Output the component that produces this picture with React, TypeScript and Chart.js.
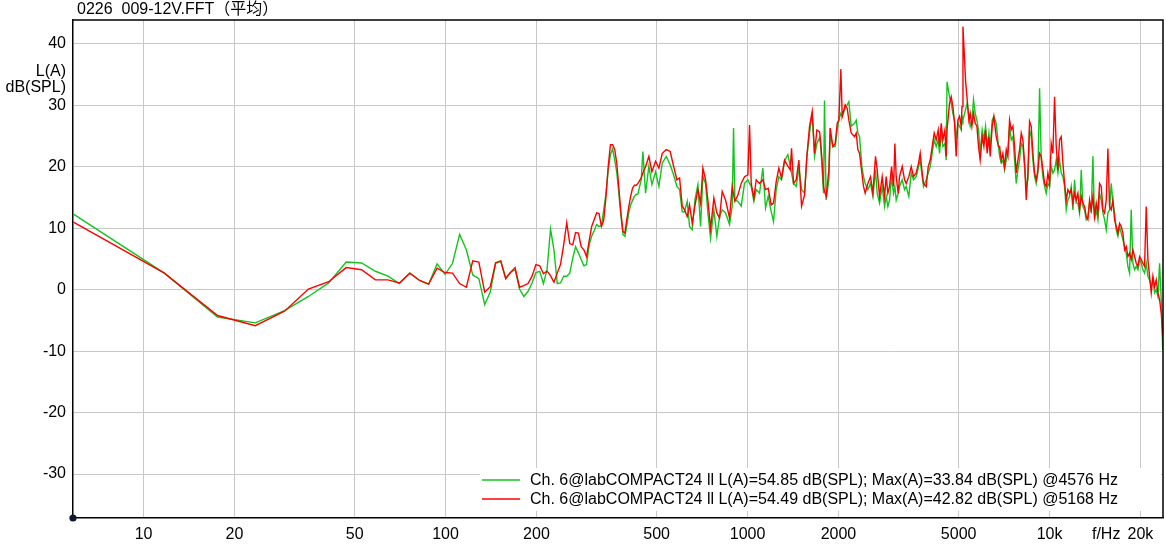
import React, { useEffect, useRef } from 'react';
import { Chart, registerables } from 'chart.js';

Chart.register(...registerables);

const TITLE = '0226  009-12V.FFT（平均）';
const Y_LABEL_LINES = ['L(A)', 'dB(SPL)'];
const SERIES_NAMES = [
  'Ch. 6@labCOMPACT24 ll L(A)=54.85 dB(SPL); Max(A)=33.84 dB(SPL) @4576 Hz',
  'Ch. 6@labCOMPACT24 ll L(A)=54.49 dB(SPL); Max(A)=42.82 dB(SPL) @5168 Hz',
];
const SERIES_COLORS = ['rgb(18,196,30)', '#ff0000'];

const xTickValues = [10, 20, 50, 100, 200, 500, 1000, 2000, 5000, 10000, 15400, 20000];
const xTickLabels = ['10', '20', '50', '100', '200', '500', '1000', '2000', '5000', '10k', 'f/Hz', '20k'];
const yTickValues = [-30, -20, -10, 0, 10, 20, 30, 40];

const freqHz = [
  5.86, 11.72, 17.58, 23.44, 29.3, 35.16, 41.02, 46.88, 52.73, 58.59, 64.45, 70.31, 76.17, 82.03, 87.89, 93.75,
  99.61, 105.47, 111.33, 117.19, 123.05, 128.91, 134.77, 140.63, 146.48, 152.34, 158.2, 164.06, 169.92, 175.78,
  181.64, 187.5, 193.36, 199.22, 205.08, 210.94, 216.8, 222.66, 228.52, 234.38, 240.23, 246.09, 251.95, 257.81,
  263.67, 269.53, 275.39, 281.25, 287.11, 292.97, 298.83, 304.69, 310.55, 316.41, 322.27, 328.13, 333.98, 339.84,
  345.7, 351.56, 357.42, 363.28, 369.14, 375, 380.86, 386.72, 392.58, 398.44, 404.3, 410.16, 416.02, 421.88,
  427.73, 433.59,
  444.6, 450.2, 459.5, 471.3, 482.2, 496.0, 508.7, 521.8, 538.0, 554.6, 568.9, 583.5, 595.5, 607.7, 618.6, 631.3,
  642.6, 655.9, 669.3, 684.8, 698.9, 711.4, 726.0, 739.0, 754.3, 773.6, 791.4, 807.8, 824.3, 845.6, 871.7, 889.6,
  898.7, 907.9, 928.9, 952.8, 977.2, 1002.5, 1015.3, 1028.3, 1049.3, 1068.3, 1095.7, 1123.8, 1147.0, 1170.5,
  1197.7, 1219.2, 1244.2, 1269.7, 1295.9, 1325.8, 1359.8, 1384.4, 1398.5, 1420.0, 1449.4, 1479.1, 1509.4, 1544.2,
  1572.1, 1604.3, 1637.2, 1666.8, 1696.7, 1731.6,
  1744, 1767, 1785, 1798, 1821, 1859, 1878, 1916, 1951, 1981, 2006, 2037, 2058, 2105, 2138, 2165, 2204, 2261,
  2290, 2319, 2349, 2391, 2421, 2452, 2503, 2554, 2600, 2653, 2687, 2736, 2792, 2842, 2878, 2915, 2953, 2998,
  3044, 3075, 3106, 3154, 3186, 3252, 3310, 3352, 3421, 3483, 3545, 3618, 3683, 3730, 3787, 3826, 3905, 3965,
  4026, 4087, 4150, 4214, 4279, 4323, 4378, 4434, 4502, 4548, 4576, 4665, 4725, 4785, 4846, 4908, 4971, 5034,
  5099, 5130, 5168, 5270, 5338, 5406, 5461, 5531, 5601, 5673, 5746, 5819, 5893, 5984, 6061, 6138, 6216, 6296,
  6360, 6458, 6540, 6658, 6778,
  6832, 6919, 7007, 7097, 7188, 7280, 7373, 7467, 7563, 7659, 7757, 7856, 7957, 8059, 8162, 8266, 8372, 8479,
  8587, 8697, 8808, 8921, 9035, 9151, 9268, 9386, 9506, 9628, 9751, 9875, 10002, 10130, 10259, 10390, 10523,
  10658, 10794, 10932, 11072, 11214, 11357, 11502, 11649, 11798, 11949, 12102, 12257, 12413, 12572, 12733,
  12896, 13061, 13228, 13397, 13568, 13742, 13917, 14095, 14276, 14458, 14643, 14830, 15020, 15212, 15407,
  15604, 15803, 16005, 16210, 16417, 16627, 16840, 17055, 17273, 17494, 17718, 17945, 18174, 18406, 18642,
  18880, 19122, 19366, 19614, 19865, 20119, 20376, 20637, 20900, 21168, 21438, 21713, 21990, 22272, 22556,
  22845, 23137, 23433, 23700,
];

const greenDb = [
  12.3, 2.7, -4.45, -5.4, -3.4, -1.1, 1.1, 4.5, 4.35, 3.0, 2.2, 1.0, 2.7, 1.5, 0.9, 4.2,
  2.5, 4.3, 9.0, 6.5, 2.4, 1.8, -2.4, -0.4, 4.3, 4.6, 1.9, 2.8, 3.25, 0.1,
  -1.1, -0.3, 1.1, 2.8, 3.0, 1.0, 3.25, 9.9, 6.5, 1.0, 1.1, 2.2, 2.2, 2.7,
  5.1, 7.0, 6.0, 4.9, 3.9, 4.1, 7.3, 8.7, 9.6, 10.6, 10.3, 10.4, 13.0, 15.7,
  19.5, 22.0, 22.9, 21.1, 19.0, 15.5, 12.0, 9.0, 8.7, 10.5, 12.5, 13.8, 14.5, 15.2,
  15.5, 15.6,
  17.9, 22.5, 15.7, 20.1, 17.1, 19.2, 16.8, 20.6, 21.7, 20.3, 18.7, 16.8, 16.3, 12.7, 12.7, 14.4,
  10.3, 9.75, 14.6, 17.1, 10.3, 18.4, 17.3, 12.5, 8.4, 13.0, 8.7, 11.9, 13.0, 12.5, 10.6, 13.6,
  26.3, 14.6, 14.4, 13.6, 17.3, 17.9, 17.3, 16.8, 14.4, 16.3, 15.7, 19.8, 13.3, 15.2,
  12.7, 11.1, 16.3, 18.4, 17.9, 20.9, 22.0, 20.1, 19.0, 17.3, 16.8, 19.8, 16.3, 15.7,
  21.7, 25.5, 28.7, 21.7, 23.8, 24.7,
  23.8, 19.5, 15.7, 30.8, 14.6, 17.9, 25.5, 23.3, 23.3, 26.0, 27.6, 28.7, 28.2, 29.5, 30.1, 30.6, 26.6, 27.1,
  27.6, 25.5, 24.9, 20.05, 18.4, 17.3, 16.3, 17.3, 15.2, 19.5, 15.7, 14.1, 16.8, 13.55, 15.2, 13.55, 14.6, 18.4,
  15.7, 16.8, 14.6, 15.7, 16.8, 17.9, 16.3, 16.8, 15.2, 19.0, 17.9, 18.4, 20.05, 21.1, 18.4, 16.8, 17.9, 19.0,
  20.05, 22.2, 24.4, 23.3, 24.4, 22.2, 25.5, 23.3, 23.8, 21.1, 33.84, 31.4, 30.35, 28.7, 27.6, 24.4, 27.1, 26.6,
  26.0, 28.2, 27.6, 29.3, 30.35, 28.2, 26.6, 27.6, 30.9, 28.7, 27.6, 26.0, 22.2, 26.0, 24.4, 26.6, 23.3, 25.5,
  22.8, 27.6, 28.2, 27.1, 23.3,
  21.7, 20.6, 21.1, 19.5, 21.1, 22.8, 26.6, 24.4, 24.9, 21.1, 17.3, 19.5, 21.1, 23.8, 23.3, 20.05, 16.8, 17.9,
  26.0, 24.9, 21.1, 18.4, 17.3, 19.0, 32.8, 21.1, 18.4, 16.8, 15.7, 17.3, 16.8, 20.05, 19.0, 19.5, 21.1,
  19.0, 21.1, 19.0, 18.4, 16.8, 13.0, 14.6, 15.2, 16.8, 13.0, 17.9, 14.1, 14.1, 12.5, 19.5,
  13.55, 13.0, 11.4, 11.9, 14.1, 12.5, 21.7, 11.4, 13.0, 11.4, 15.7, 14.6, 12.5, 11.4, 9.75,
  12.5, 13.0, 17.3, 14.1, 12.5, 9.75, 8.7, 10.3, 9.2, 8.1, 7.05, 5.96, 3.8, 2.7, 13.0,
  4.3, 3.25, 3.8, 3.25, 4.9, 4.3, 3.25, 2.7, 4.3, 2.2, 1.6, 0.5, 1.6, -0.5, 0,
  -1.1, 4.3, -1.6, -9.8,
];

const redDb = [
  11.0, 2.7, -4.2, -5.85, -3.5, 0.1, 1.3, 3.6, 3.25, 1.6, 1.6, 1.1, 2.7, 1.5, 0.9, 3.5,
  2.8, 2.7, 1.0, 0.4, 4.7, 4.5, -0.4, 0.5, 4.4, 4.7, 1.8, 2.8, 3.6, 0.4,
  0.65, 1.0, 2.2, 4.1, 3.9, 2.6, 3.0, 2.3, 1.2, 2.7, 4.1, 7.3, 10.9, 7.5,
  7.3, 9.3, 9.2, 7.0, 6.5, 5.4, 7.9, 10.3, 11.4, 12.5, 12.4, 10.3, 11.3, 15.2,
  20.1, 23.6, 23.6, 22.8, 20.5, 16.5, 12.5, 9.5, 9.2, 11.5, 13.5, 15.2, 16.5, 17.0,
  17.0, 17.3,
  18.2, 19.0, 20.0, 21.7, 19.2, 20.9, 19.8, 22.2, 22.8, 22.5, 20.1, 17.9, 18.2, 13.6, 13.0, 11.9,
  13.8, 10.8, 13.6, 16.3, 14.1, 19.8, 17.9, 14.6, 10.0, 14.9, 12.5, 11.7, 16.0, 14.6, 11.7, 16.8,
  15.5, 14.4, 15.4, 17.3, 18.4, 18.7, 26.8, 17.3, 14.9, 17.9, 17.3, 17.9, 16.3, 16.5,
  13.8, 14.1, 17.6, 19.8, 18.2, 21.1, 20.1, 19.5, 23.0, 17.3, 17.9, 21.1, 13.6, 15.4,
  21.7, 26.6, 29.0, 22.2, 26.0, 25.7,
  24.4, 20.6, 16.8, 16.0, 15.2, 19.5, 26.3, 23.3, 23.8, 27.1, 27.6, 35.9, 28.2, 30.1, 29.5, 27.6, 25.5, 24.9,
  25.5, 22.8, 22.2, 19.0, 16.8, 15.7, 17.3, 18.4, 15.7, 21.7, 19.5, 15.2, 18.4, 15.2, 18.4, 15.7, 16.8, 20.05,
  16.8, 23.8, 18.4, 15.7, 18.4, 20.05, 17.9, 17.3, 18.4, 20.05, 18.4, 19.0, 20.6, 22.2, 19.0, 17.3, 16.8, 20.05,
  21.1, 23.3, 25.5, 24.4, 26.0, 23.3, 27.1, 24.4, 26.0, 21.7, 26.0, 30.35, 31.4, 29.8, 27.1, 21.7, 27.6, 28.2,
  26.6, 29.8, 42.82, 34.1, 30.9, 27.6, 28.7, 26.6, 28.7, 27.1, 26.6, 23.3, 21.1, 24.9, 23.3, 26.0, 22.2, 24.9,
  21.7, 26.6, 28.2, 24.9, 23.3,
  23.3, 21.1, 22.2, 20.05, 22.8, 21.7, 27.6, 26.0, 26.6, 23.3, 19.0, 21.1, 22.8, 25.5, 24.4, 20.6, 14.6, 19.0,
  27.4, 26.6, 22.2, 19.0, 17.9, 19.5, 22.2, 21.7, 19.5, 17.3, 16.8, 19.0, 17.3, 23.8, 22.2, 31.4, 23.3,
  19.5, 24.4, 24.9, 20.6, 17.3, 14.6, 16.3, 15.7, 16.3, 14.1, 15.7, 14.6, 15.7, 13.0, 15.2,
  14.1, 13.55, 11.9, 11.4, 14.6, 13.0, 15.2, 11.9, 14.1, 12.5, 17.3, 16.8, 13.0, 12.5, 14.6,
  23.0, 13.55, 13.0, 14.6, 11.4, 10.3, 9.2, 10.8, 10.3, 9.2, 6.5, 7.05, 5.4, 5.96, 4.9,
  6.5, 5.4, 4.3, 3.8, 5.4, 4.9, 4.3, 3.8, 13.55, 4.9, 2.2, -0.5, 2.2, 0.5, 1.6,
  -0.5, -1.6, -3.8, -7.5,
];

const FONT = '"Liberation Sans", Arial, "Noto Sans CJK SC", sans-serif';

const decorPlugin = {
  id: 'decor',
  afterDatasetsDraw(chart: any) {
    const { ctx, chartArea } = chart;
    const { left, right, top, bottom } = chartArea;
    ctx.save();
    // frame (top and right)
    ctx.strokeStyle = '#000';
    ctx.lineWidth = 1.5;
    ctx.beginPath();
    ctx.moveTo(left, top);
    ctx.lineTo(right, top);
    ctx.lineTo(right, bottom);
    ctx.stroke();

    // legend box
    ctx.fillStyle = '#ffffff';
    ctx.fillRect(480, 468, 681, 43);
    ctx.font = `16px ${FONT}`;
    ctx.textBaseline = 'middle';
    ctx.textAlign = 'left';
    const rows = [480, 499];
    for (let i = 0; i < 2; i++) {
      ctx.strokeStyle = SERIES_COLORS[i];
      ctx.lineWidth = 1.3;
      ctx.beginPath();
      ctx.moveTo(482, rows[i]);
      ctx.lineTo(520, rows[i]);
      ctx.stroke();
      ctx.fillStyle = '#000';
      ctx.fillText(SERIES_NAMES[i], 530, rows[i] + 1);
    }

    // title
    ctx.fillStyle = '#000';
    ctx.textBaseline = 'middle';
    ctx.textAlign = 'left';
    ctx.fillText(TITLE, 77, 10);

    // y unit label
    ctx.textAlign = 'right';
    ctx.fillText(Y_LABEL_LINES[0], 66, 72);
    ctx.fillText(Y_LABEL_LINES[1], 66, 88);

    // origin dot
    ctx.fillStyle = '#0b1a2c';
    ctx.beginPath();
    ctx.arc(left, bottom, 3.6, 0, Math.PI * 2);
    ctx.fill();
    ctx.restore();
  },
};

export default function App() {
  const canvasRef = useRef<HTMLCanvasElement | null>(null);

  useEffect(() => {
    const canvas = canvasRef.current;
    if (!canvas) return;
    const chart = new Chart(canvas, {
      type: 'line',
      data: {
        datasets: [
          {
            label: SERIES_NAMES[1],
            data: freqHz.map((f, i) => ({ x: f, y: redDb[i] })),
            borderColor: SERIES_COLORS[1],
            backgroundColor: SERIES_COLORS[1],
            borderWidth: 1.4,
            pointRadius: 0,
            tension: 0,
            fill: false,
            order: 0,
          },
          {
            label: SERIES_NAMES[0],
            data: freqHz.map((f, i) => ({ x: f, y: greenDb[i] })),
            borderColor: SERIES_COLORS[0],
            backgroundColor: SERIES_COLORS[0],
            borderWidth: 1.4,
            pointRadius: 0,
            tension: 0,
            fill: false,
            order: 1,
          },
        ],
      },
      options: {
        animation: false,
        responsive: false,
        maintainAspectRatio: false,
        devicePixelRatio: 1,
        layout: { padding: { top: 20, right: 3, left: 0, bottom: 0 } },
        plugins: {
          legend: { display: false },
          tooltip: { enabled: false },
          title: { display: false },
        },
        scales: {
          x: {
            type: 'logarithmic',
            min: 5.84,
            max: 23750,
            afterBuildTicks: (scale: any) => {
              scale.ticks = xTickValues.map((v) => ({ value: v }));
            },
            afterFit: (scale: any) => {
              scale.height = 34;
            },
            ticks: {
              autoSkip: false,
              maxRotation: 0,
              minRotation: 0,
              padding: 7,
              color: '#000',
              font: { family: FONT, size: 16 },
              callback: (_v: any, i: number) => xTickLabels[i],
            },
            grid: {
              color: (c: any) => (c.tick && c.tick.value === 15400 ? 'rgba(0,0,0,0)' : '#c8c8c8'),
              drawTicks: false,
              lineWidth: 1,
            },
            border: { color: '#000', width: 1.5 },
          },
          y: {
            type: 'linear',
            min: -37.16,
            max: 43.9,
            afterBuildTicks: (scale: any) => {
              scale.ticks = yTickValues.map((v) => ({ value: v }));
            },
            afterFit: (scale: any) => {
              scale.width = 73;
            },
            ticks: {
              padding: 7,
              color: '#000',
              font: { family: FONT, size: 16 },
              callback: (v: any) => String(v),
            },
            grid: { color: '#c8c8c8', drawTicks: false, lineWidth: 1 },
            border: { color: '#000', width: 1.5 },
          },
        },
      },
      plugins: [decorPlugin],
    } as any);
    return () => chart.destroy();
  }, []);

  return (
    <div style={{ position: 'absolute', left: 0, top: 0, width: 1166, height: 552, background: '#fff' }}>
      <canvas ref={canvasRef} width={1166} height={552} style={{ width: 1166, height: 552, display: 'block' }} />
    </div>
  );
}
